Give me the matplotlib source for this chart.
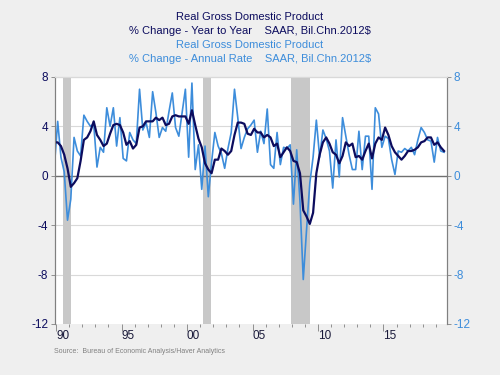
import numpy as np
import pandas as pd
from matplotlib import pyplot as plt

# Real GDP, % change annual rate (quarterly, 1989Q3 - 2019Q3)
annual_rate = [3.0, 0.8,
               4.4, 1.5, 0.3, -3.6,
               -1.9, 3.1, 2.0, 1.6,
               4.9, 4.4, 4.0, 4.2,
               0.7, 2.3, 1.9, 5.5,
               4.0, 5.5, 2.4, 4.7,
               1.4, 1.2, 3.5, 2.9,
               2.6, 7.0, 3.7, 4.3,
               3.1, 6.8, 5.1, 3.1,
               3.9, 3.6, 5.2, 6.7,
               3.9, 3.2, 5.1, 7.0,
               1.5, 7.5, 0.5, 2.5,
               -1.1, 2.4, -1.7, 1.1,
               3.5, 2.4, 1.8, 0.6,
               2.2, 3.5, 7.0, 4.7,
               2.2, 3.1, 3.8, 4.1,
               4.5, 1.9, 3.6, 2.6,
               5.4, 0.9, 0.6, 3.5,
               0.9, 2.3, 2.2, 2.5,
               -2.3, 2.1, -2.1, -8.4,
               -4.4, -0.6, 1.5, 4.5,
               1.5, 3.7, 3.0, 2.0,
               -1.0, 2.9, -0.1, 4.7,
               3.2, 1.7, 0.5, 0.5,
               3.6, 0.5, 3.2, 3.2,
               -1.1, 5.5, 5.0, 2.3,
               3.2, 3.0, 1.3, 0.1,
               2.0, 1.9, 2.2, 2.0,
               2.3, 1.7, 2.9, 3.9,
               3.5, 2.9, 2.8, 1.1,
               3.1, 2.0, 1.9]

# Real GDP, % change year to year
year_to_year = [3.0, 2.7,
                2.7, 2.4, 1.7, 0.6,
                -0.9, -0.6, -0.2, 1.2,
                2.9, 3.1, 3.6, 4.4,
                3.3, 2.9, 2.4, 2.6,
                3.4, 4.1, 4.2, 4.1,
                3.5, 2.5, 2.8, 2.2,
                2.5, 3.9, 4.0, 4.4,
                4.4, 4.4, 4.7, 4.5,
                4.7, 4.1, 4.2, 4.8,
                4.9, 4.8, 4.8, 4.8,
                4.2, 5.3, 4.1, 3.0,
                2.3, 1.0, 0.5, 0.2,
                1.3, 1.3, 2.2, 2.0,
                1.7, 2.0, 3.3, 4.3,
                4.3, 4.2, 3.4, 3.3,
                3.8, 3.5, 3.5, 3.1,
                3.3, 3.1, 2.4, 2.6,
                1.5, 1.9, 2.3, 2.0,
                1.2, 1.1, 0.2, -2.8,
                -3.3, -3.9, -3.0, 0.2,
                1.7, 2.7, 3.1, 2.6,
                1.9, 1.7, 1.0, 1.6,
                2.7, 2.4, 2.6, 1.5,
                1.6, 1.3, 2.0, 2.6,
                1.4, 2.6, 3.1, 2.9,
                3.9, 3.3, 2.4, 1.9,
                1.6, 1.3, 1.6, 2.0,
                2.0, 2.1, 2.3, 2.7,
                2.8, 3.1, 3.1, 2.5,
                2.7, 2.3, 2.0]

recessions = [("1990-07", "1991-03"), ("2001-04", "2001-11"), ("2007-12", "2009-06")]
year_labels = ["90", "95", "00", "05", "10", "15"]

navy = "#0c0c5e"
blue = "#3d8ddb"
bg = "#efefef"

# posicao no meio de cada trimestre (anos decimais)
quarters = pd.period_range("1989Q3", periods=len(annual_rate), freq="Q")
x = quarters.year + (quarters.quarter - 1) / 4 + 0.125


def dec_year(s):
    d = pd.Timestamp(s)
    return d.year + (d.month - 1) / 12


fig = plt.figure(figsize=(5, 3.75), dpi=100, facecolor=bg)
plt.rcParams['font.family'] = ['Liberation Sans', 'DejaVu Sans']
ax = fig.add_axes([0.11, 0.136, 0.784, 0.659])
ax.set_facecolor("white")

for start, end in recessions:
    ax.axvspan(dec_year(start), dec_year(end), color="#c8c8c8", lw=0, zorder=1)

for yv in [8, 4, -4, -8]:
    ax.axhline(yv, color="#d9d9d9", lw=0.8, zorder=0)
ax.axhline(0, color="#707070", lw=1.0, zorder=2)

ax.plot(x, annual_rate, color=blue, lw=1.2, zorder=3)
ax.plot(x, year_to_year, color=navy, lw=1.6, zorder=4)

ax.set_xlim(1989.92, 2019.85)
ax.set_ylim(-12, 8)

ax.set_yticks([8, 4, 0, -4, -8, -12])
ax.set_yticklabels(["8", "4", "0", "-4", "-8", "-12"])
ax.tick_params(axis="y", colors="#808080", labelcolor=navy, labelsize=8.5,
               length=3, width=0.6, direction="out", pad=2)

ax2 = ax.twinx()
ax2.set_ylim(-12, 8)
ax2.set_yticks([8, 4, 0, -4, -8, -12])
ax2.set_yticklabels(["8", "4", "0", "-4", "-8", "-12"])
ax2.tick_params(axis="y", colors="#808080", labelcolor=blue, labelsize=8.5,
                length=3, width=0.6, direction="out", pad=2)

# anos: ticks no inicio de cada ano, rotulos no meio
years = np.arange(1990, 2020)
ax.set_xticks(years[::5])
ax.set_xticks(years, minor=True)
ax.tick_params(axis="x", which="major", length=5, width=0.6, colors="#808080",
               labelbottom=False)
ax.tick_params(axis="x", which="minor", length=2.5, width=0.6, colors="#808080")
for yr, lab in zip(years[::5], year_labels):
    ax.text(yr + 0.5, -12.45, lab, ha="center", va="top", fontsize=8.5,
            color="#1a1a3a", clip_on=False)

for a in (ax, ax2):
    a.spines["top"].set_color("#d9d9d9")
    a.spines["bottom"].set_visible(False)
    a.spines["left"].set_color("#808080")
    a.spines["right"].set_color("#808080")
    a.spines["left"].set_linewidth(0.8)
    a.spines["right"].set_linewidth(0.8)

fig.text(0.5, 0.955, "Real Gross Domestic Product", ha="center", va="center",
         fontsize=8, color=navy)
fig.text(0.5, 0.918, "% Change - Year to Year    SAAR, Bil.Chn.2012$", ha="center",
         va="center", fontsize=8, color=navy)
fig.text(0.5, 0.88, "Real Gross Domestic Product", ha="center", va="center",
         fontsize=8, color=blue)
fig.text(0.5, 0.843, "% Change - Annual Rate    SAAR, Bil.Chn.2012$", ha="center",
         va="center", fontsize=8, color=blue)

fig.text(0.107, 0.062, "Source:  Bureau of Economic Analysis/Haver Analytics",
         ha="left", va="center", fontsize=5, color="#808080")

plt.savefig("out.png", dpi=100, facecolor=bg)
